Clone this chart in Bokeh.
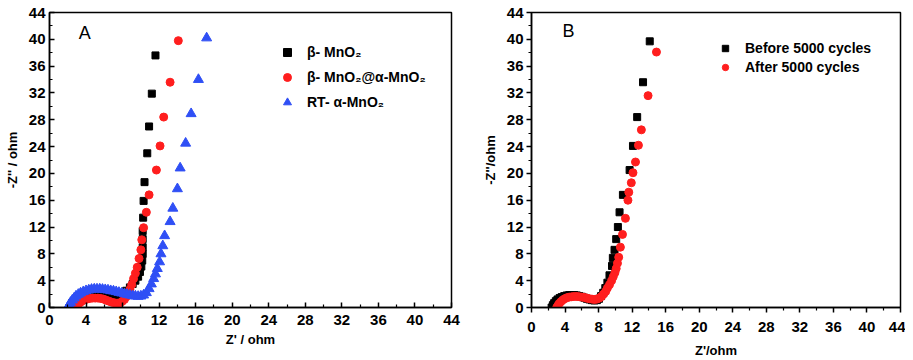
from bokeh.plotting import figure
from bokeh.models import Range1d, FixedTicker, Legend, LegendItem, Label
from bokeh.layouts import row
from bokeh.embed import file_html
from bokeh.resources import INLINE

# ---------------- data ----------------
tick_values = [0, 4, 8, 12, 16, 20, 24, 28, 32, 36, 40, 44]
minor_values = [2, 6, 10, 14, 18, 22, 26, 30, 34, 38, 42]

# Panel A
beta_x = [2.2, 2.35, 2.5, 2.7, 2.9, 3.15, 3.4, 3.7, 4.0, 4.3, 4.6, 4.9, 5.2, 5.5, 5.8, 6.1, 6.4,
          6.7, 7.0, 7.3, 7.6, 8.0, 8.4, 8.8, 9.1, 9.4, 9.7, 9.9, 10.05, 10.15, 10.2, 10.2, 10.2,
          10.2, 10.25, 10.3, 10.4, 10.7, 10.9, 11.2, 11.6]
beta_y = [0.0, 0.35, 0.7, 1.0, 1.25, 1.5, 1.65, 1.8, 1.9, 2.0, 2.05, 2.05, 2.05, 2.0, 1.95, 1.9,
          1.85, 1.8, 1.8, 1.8, 1.85, 2.0, 2.5, 3.0, 3.5, 4.0, 4.6, 5.3, 6.1, 7.0, 8.0, 9.0, 10.2,
          11.4, 13.4, 15.9, 18.7, 23.0, 27.0, 31.9, 37.6]

core_x = [2.9, 3.05, 3.2, 3.4, 3.6, 3.85, 4.1, 4.4, 4.7, 5.0, 5.3, 5.6, 5.9, 6.2, 6.5, 6.8, 7.1,
          7.4, 7.7, 7.95, 8.2, 8.4, 8.6, 8.8, 9.0, 9.2, 9.4, 9.6, 9.8, 10.0, 10.1, 10.3, 10.6,
          10.9, 11.7, 12.1, 12.5, 13.2, 14.1]
core_y = [0.0, 0.3, 0.55, 0.8, 1.0, 1.15, 1.25, 1.35, 1.4, 1.4, 1.4, 1.35, 1.25, 1.1, 0.95, 0.8,
          0.7, 0.65, 0.7, 0.9, 1.2, 1.6, 2.1, 2.7, 3.4, 4.3, 5.1, 6.0, 7.3, 8.6, 10.1, 11.9, 14.2,
          16.8, 20.5, 24.1, 28.4, 33.6, 39.8]

rt_x = [2.0, 2.15, 2.3, 2.5, 2.7, 2.9, 3.15, 3.4, 3.7, 4.0, 4.3, 4.6, 4.9, 5.2, 5.5, 5.8, 6.1,
        6.4, 6.7, 7.0, 7.3, 7.6, 7.9, 8.2, 8.5, 8.8, 9.1, 9.4, 9.7, 10.0, 10.3, 10.6, 10.9,
        11.15, 11.4, 11.6, 11.8, 12.05, 12.2, 12.4, 12.6, 13.2, 13.5, 14.0, 14.3, 14.9, 15.5,
        16.3, 17.2]
rt_y = [0.0, 0.4, 0.75, 1.1, 1.4, 1.7, 1.95, 2.15, 2.35, 2.5, 2.6, 2.7, 2.75, 2.75, 2.75, 2.7,
        2.65, 2.6, 2.5, 2.45, 2.35, 2.25, 2.15, 2.05, 1.95, 1.85, 1.75, 1.7, 1.65, 1.7, 1.85,
        2.2, 2.8, 3.5, 4.3, 5.0, 5.8, 6.8, 8.0, 9.2, 10.7, 12.8, 14.8, 17.7, 20.8, 24.5, 28.9,
        34.0, 40.2]

# Panel B
before_x = [2.4, 2.55, 2.7, 2.9, 3.1, 3.35, 3.6, 3.9, 4.2, 4.5, 4.8, 5.1, 5.4, 5.7, 6.0, 6.3,
            6.6, 6.9, 7.2, 7.5, 7.8, 8.05, 8.3, 8.55, 8.8, 9.05, 9.3, 9.6, 9.7, 9.9, 10.1, 10.3,
            10.5, 10.9, 11.7, 12.1, 12.6, 13.3, 14.1]
before_y = [0.0, 0.35, 0.65, 0.95, 1.2, 1.4, 1.55, 1.7, 1.8, 1.85, 1.85, 1.85, 1.8, 1.7, 1.6,
            1.45, 1.3, 1.2, 1.1, 1.05, 1.1, 1.3, 1.7, 2.2, 2.9, 3.7, 4.8, 6.2, 7.4, 8.6, 10.2,
            12.0, 14.2, 16.8, 20.5, 24.1, 28.4, 33.6, 39.7]

after_x = [3.0, 3.15, 3.3, 3.5, 3.7, 3.95, 4.2, 4.5, 4.8, 5.1, 5.4, 5.7, 6.0, 6.3, 6.6, 6.9, 7.2,
           7.5, 7.8, 8.1, 8.35, 8.6, 8.85, 9.05, 9.3, 9.55, 9.75, 9.95, 10.1, 10.25, 10.4, 10.6,
           10.85, 11.2, 11.5, 11.6, 11.9, 12.1, 12.4, 12.75, 13.1, 13.9, 14.9]
after_y = [0.0, 0.3, 0.6, 0.85, 1.1, 1.3, 1.45, 1.55, 1.6, 1.65, 1.65, 1.6, 1.55, 1.5, 1.4, 1.3,
           1.25, 1.2, 1.25, 1.4, 1.65, 2.0, 2.4, 2.9, 3.4, 4.0, 4.6, 5.2, 5.8, 6.6, 7.5, 9.0,
           10.9, 13.3, 16.0, 17.2, 18.6, 20.1, 21.7, 24.2, 26.5, 31.6, 38.1]

labels_a = ["β- MnO₂", "β- MnO₂@α-MnO₂", "RT- α-MnO₂"]
labels_b = ["Before 5000 cycles", "After 5000 cycles"]

FONT = "Liberation Sans"
RED = "#FF1E1E"
BLUE = "#2F4FF5"


def style(p, xlabel, ylabel, inward):
    p.x_range = Range1d(0, 44)
    p.y_range = Range1d(0, 44)
    p.xgrid.visible = False
    p.ygrid.visible = False
    p.outline_line_color = "black"
    p.outline_line_width = 1.5
    p.outline_line_alpha = 1.0
    p.xaxis.axis_label = xlabel
    p.yaxis.axis_label = ylabel
    for ax in (p.xaxis[0], p.yaxis[0]):
        ax.ticker = FixedTicker(ticks=tick_values, minor_ticks=minor_values)
        ax.axis_line_color = "black"
        ax.axis_line_width = 1.5
        ax.major_tick_line_color = "black"
        ax.minor_tick_line_color = "black"
        ax.major_tick_line_width = 1.5
        ax.minor_tick_line_width = 1.2
        if inward:
            ax.major_tick_in = 5
            ax.major_tick_out = 0
            ax.minor_tick_in = 3
            ax.minor_tick_out = 0
        else:
            ax.major_tick_in = 0
            ax.major_tick_out = 5
            ax.minor_tick_in = 0
            ax.minor_tick_out = 3
        ax.major_label_text_font = FONT
        ax.major_label_text_font_style = "bold"
        ax.major_label_text_font_size = "15px"
        ax.major_label_text_color = "black"
        ax.axis_label_text_font = FONT
        ax.axis_label_text_font_style = "bold"
        ax.axis_label_text_font_size = "13px"
        ax.axis_label_text_color = "black"


def make_legend(items, loc, gh, spacing, standoff):
    lg = Legend(items=items, location=loc)
    lg.label_text_font = FONT
    lg.label_text_font_style = "bold"
    lg.label_text_font_size = "14px"
    lg.label_text_color = "black"
    lg.glyph_width = 20
    lg.glyph_height = gh
    lg.label_height = gh
    lg.label_standoff = standoff
    lg.spacing = spacing
    lg.padding = 0
    lg.margin = 0
    lg.background_fill_alpha = 0
    lg.border_line_alpha = 0
    return lg


# ---------------- Panel A ----------------
pa = figure(width=461, height=360, output_backend="svg", toolbar_location=None,
            min_border_left=49, min_border_right=10, min_border_top=12, min_border_bottom=51)
style(pa, "Z' / ohm", "-Z'' / ohm", True)
pa.xaxis.major_label_standoff = 7
pa.xaxis.axis_label_standoff = 4
pa.yaxis.major_label_standoff = 4
pa.yaxis.axis_label_standoff = 6

ra1 = pa.scatter(beta_x, beta_y, marker="square", size=7, color="black")
ra2 = pa.scatter(core_x, core_y, marker="circle", size=8, color=RED)
ra3 = pa.scatter(rt_x, rt_y, marker="triangle", size=10, color=BLUE)

lga = make_legend([LegendItem(label=labels_a[0], renderers=[ra1]),
                   LegendItem(label=labels_a[1], renderers=[ra2]),
                   LegendItem(label=labels_a[2], renderers=[ra3])],
                  (228, 195), 20, 5, 10)
pa.add_layout(lga)
pa.add_layout(Label(x=3.2, y=39.4, text="A", text_font=FONT, text_font_size="18px",
                    text_color="black"))

# ---------------- Panel B ----------------
pb = figure(width=444, height=360, output_backend="svg", toolbar_location=None,
            min_border_left=70, min_border_right=5, min_border_top=10, min_border_bottom=51)
style(pb, "Z'/ohm", "-Z''/ohm", False)
pb.xaxis.major_label_standoff = 9
pb.xaxis.axis_label_standoff = 8
pb.yaxis.major_label_standoff = 3
pb.yaxis.axis_label_standoff = 6

rb1 = pb.scatter(before_x, before_y, marker="square", size=7, color="black")
rb2 = pb.scatter(after_x, after_y, marker="circle", size=8, color=RED)

lgb = make_legend([LegendItem(label=labels_b[0], renderers=[rb1]),
                   LegendItem(label=labels_b[1], renderers=[rb2])],
                  (184, 232), 16, 3, 10)
pb.add_layout(lgb)
pb.add_layout(Label(x=3.7, y=39.7, text="B", text_font=FONT, text_font_size="18px",
                    text_color="black"))

layout = row(pa, pb)
open("out.html", "w").write(file_html(layout, INLINE))
